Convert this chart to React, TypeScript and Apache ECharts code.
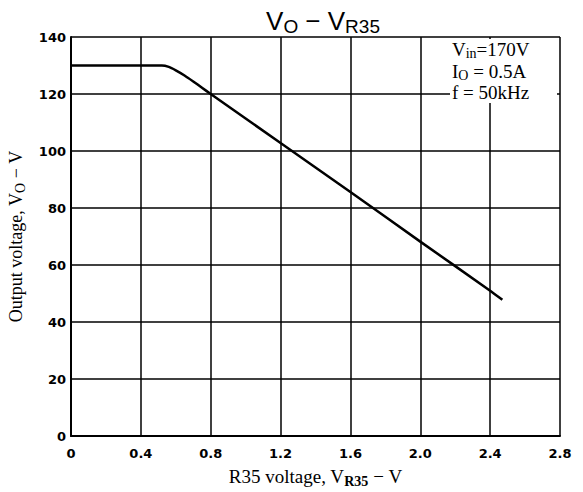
import React, { useEffect, useRef } from "react";
import * as echarts from "echarts";

const xValues = [0, 0.52, 0.56, 0.6, 0.65, 0.7, 0.75, 0.8, 1.2, 1.6, 2.0, 2.4, 2.47];
const yValues = [130, 130, 129.5, 128.3, 126.5, 124.4, 122.2, 120, 102.8, 85.6, 68.2, 51, 47.8];

const annotationLines = [
  "{m|V}{s|in}{m|=170V}",
  "{m|I}{s|O}{m| = 0.5A}",
  "{m|f = 50kHz}",
];
const annotationTops = [39, 61, 83];

export default function App() {
  const ref = useRef<HTMLDivElement>(null);
  useEffect(() => {
    if (!ref.current) return;
    const chart = echarts.init(ref.current, null, { renderer: "svg" });
    const serif = "'Liberation Serif', 'DejaVu Serif', serif";
    const sans = "'Liberation Sans', Arial, sans-serif";
    const tickFont = "'DejaVu Sans', sans-serif";
    chart.setOption({
      animation: false,
      backgroundColor: "#fff",
      title: {
        text: "{v|V}{s|O}{v| − V}{s|R35}",
        left: 318,
        textAlign: "center",
        top: 0,
        textStyle: {
          fontWeight: "normal",
          rich: {
            v: { fontFamily: sans, fontSize: 26, fontWeight: "normal", color: "#000", lineHeight: 28 },
            s: { fontFamily: sans, fontSize: 19, fontWeight: "normal", color: "#000", padding: [12, 0, 0, 0] },
          },
        },
      },
      grid: { left: 71, right: 23, top: 37, bottom: 56, containLabel: false, outerBoundsMode: "none" },
      xAxis: {
        type: "value",
        min: 0,
        max: 2.8,
        interval: 0.4,
        name: "{n|R35 voltage, V}{s|R35}{n| − V}",
        nameLocation: "middle",
        nameGap: 29,
        nameTextStyle: {
          rich: {
            n: { fontFamily: serif, fontSize: 19, color: "#000" },
            s: { fontFamily: serif, fontSize: 14, fontWeight: "bold", color: "#000", padding: [9, 0, 0, 0] },
          },
        },
        axisLine: { show: true, onZero: false, lineStyle: { color: "#000", width: 2 } },
        axisTick: { show: false },
        axisLabel: {
          color: "#000",
          fontFamily: tickFont,
          fontWeight: "bold",
          fontSize: 13,
          margin: 11,
          formatter: (v: number) => (v === 0 ? "0" : v.toFixed(1)),
        },
        splitLine: { show: true, lineStyle: { color: "#000", width: 1.5 } },
      },
      yAxis: {
        type: "value",
        min: 0,
        max: 140,
        interval: 20,
        name: "{n|Output voltage, V}{s|O}{n| − V}",
        nameLocation: "middle",
        nameGap: 42,
        nameTextStyle: {
          rich: {
            n: { fontFamily: serif, fontSize: 18, color: "#000" },
            s: { fontFamily: serif, fontSize: 14, color: "#000", padding: [9, 0, 0, 0] },
          },
        },
        axisLine: { show: true, onZero: false, lineStyle: { color: "#000", width: 2 } },
        axisTick: { show: false },
        axisLabel: {
          color: "#000",
          fontFamily: tickFont,
          fontWeight: "bold",
          fontSize: 13,
          margin: 5,
        },
        splitLine: { show: true, lineStyle: { color: "#000", width: 1.5 } },
      },
      series: [
        {
          type: "line",
          data: xValues.map((x, i) => [x, yValues[i]]),
          showSymbol: false,
          smooth: 0.2,
          lineStyle: { color: "#000", width: 2.5 },
          z: 5,
        },
      ],
      graphic: [
        {
          type: "rect",
          shape: { x: 450, y: 39, width: 107, height: 64 },
          style: { fill: "#fff" },
          z: 10,
        },
        ...annotationLines.map((t, i) => ({
          type: "text",
          x: 452,
          y: annotationTops[i],
          z: 11,
          style: {
            text: t,
            fill: "#000",
            rich: {
              m: { fontFamily: serif, fontSize: 19, fill: "#000", color: "#000" },
              s: { fontFamily: serif, fontSize: 14, fill: "#000", color: "#000", padding: [7, 0, 0, 0] },
            },
          },
        })),
      ],
    });
    return () => chart.dispose();
  }, []);
  return (
    <div
      ref={ref}
      style={{ position: "fixed", left: 0, top: 0, width: 583, height: 492 }}
    />
  );
}
